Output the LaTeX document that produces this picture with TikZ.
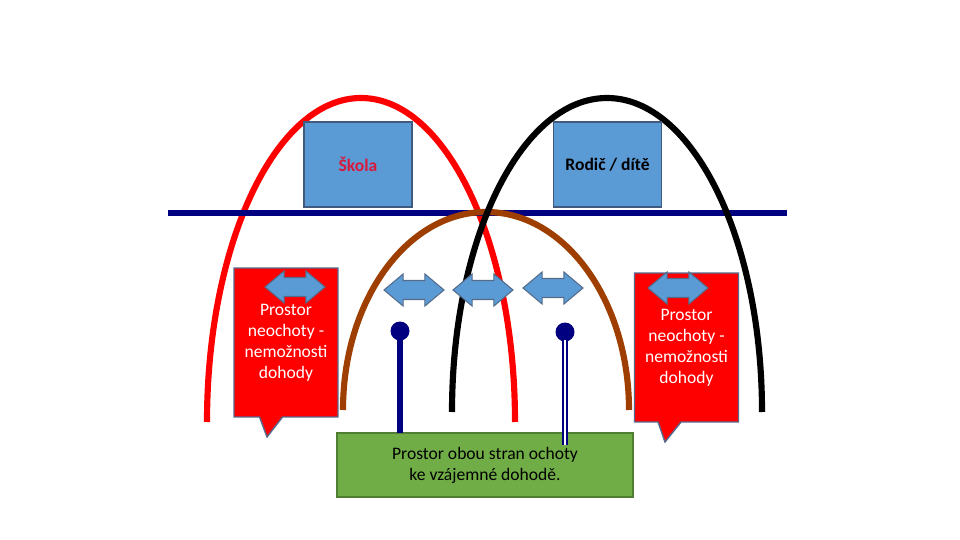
\documentclass[tikz,border=0pt]{standalone}
\usepackage{fontspec}
\setmainfont{Carlito}
\usepackage{xcolor}
\usepackage{tikz}
\usetikzlibrary{shapes.arrows,shapes.callouts}

\definecolor{boxblue}{RGB}{91,155,213}
\definecolor{boxedge}{RGB}{65,90,125}
\definecolor{darknavy}{RGB}{0,0,128}
\definecolor{archbrown}{RGB}{158,62,0}
\definecolor{crimsontxt}{RGB}{215,25,60}
\definecolor{okgreen}{RGB}{112,173,71}
\definecolor{okgreenedge}{RGB}{80,126,50}
\definecolor{calloutedge}{RGB}{85,105,140}

\begin{document}
\begin{tikzpicture}[x=0.02cm,y=-0.02cm,
  font=\fontsize{10}{12}\selectfont,
  arch/.style={line width=3.5pt},
  party/.style={draw=boxedge,fill=boxblue,line width=0.6pt,minimum width=2.16cm,minimum height=1.7cm,font=\fontsize{10}{12}\selectfont\bfseries},
  dbl/.style={double arrow,draw=boxedge!90!white,fill=boxblue,line width=0.6pt,inner xsep=0pt,inner ysep=0.18cm,
    minimum height=1.2cm,double arrow head extend=0.13cm,double arrow tip angle=80},
  nogo/.style={rectangle callout,draw=calloutedge,fill=red,line width=0.8pt,text=white,align=center,
    minimum width=2.08cm,minimum height=2.98cm,callout pointer width=0.46cm},
  pinhead/.style={circle,fill=darknavy,inner sep=0pt,minimum size=0.38cm},
  pinline/.style={darknavy,line width=3.8pt,shorten <=-2pt}]
\useasboundingbox (0,0) rectangle (960,540);

\draw[arch,red] (207,422) arc[start angle=180,end angle=360,x radius=154,y radius=324];
\draw[darknavy,line width=3.6pt] (168,213) -- (787,213);
\draw[arch,archbrown] (343,410) arc[start angle=180,end angle=360,x radius=143,y radius=198];
\draw[arch,black] (452,412) arc[start angle=180,end angle=360,x radius=155,y radius=314];

\node[party,text=crimsontxt] (skola) at (358,164.5) {Škola};
\node[party] (rodic) at (607.5,164.5) {Rodič / dítě};

\node[nogo,callout absolute pointer={(267,437)}] (nogoL) at (286,342.5) {Prostor\\neochoty -\\nemožnosti\\dohody};
\node[nogo,callout absolute pointer={(665,442)}] (nogoR) at (686.5,347.5) {Prostor\\neochoty -\\nemožnosti\\dohody};
\node[dbl] (arrL) at (295,287) {};
\node[dbl] (arrR) at (678,288) {};

\node[dbl] (arrA) at (414,290) {};
\node[dbl] (arrB) at (483,290) {};
\node[dbl] (arrC) at (553,288) {};

\node[draw=okgreenedge,fill=okgreen,line width=0.8pt,minimum width=5.92cm,minimum height=1.28cm,align=center] (deal) at (485,465)
  {Prostor obou stran ochoty\\ke vzájemné dohodě.};

\node[pinhead] (pinL) at (400,331) {};
\node[pinhead] (pinR) at (565,332) {};
\coordinate (pinLend) at (400,433);
\coordinate (pinRend) at (565,445);
\draw[pinline] (pinL) -- (pinLend);
\draw[darknavy,line width=1pt,double=white,double distance=1.2pt,shorten <=-1pt] (pinR) -- (pinRend);
\end{tikzpicture}
\end{document}
